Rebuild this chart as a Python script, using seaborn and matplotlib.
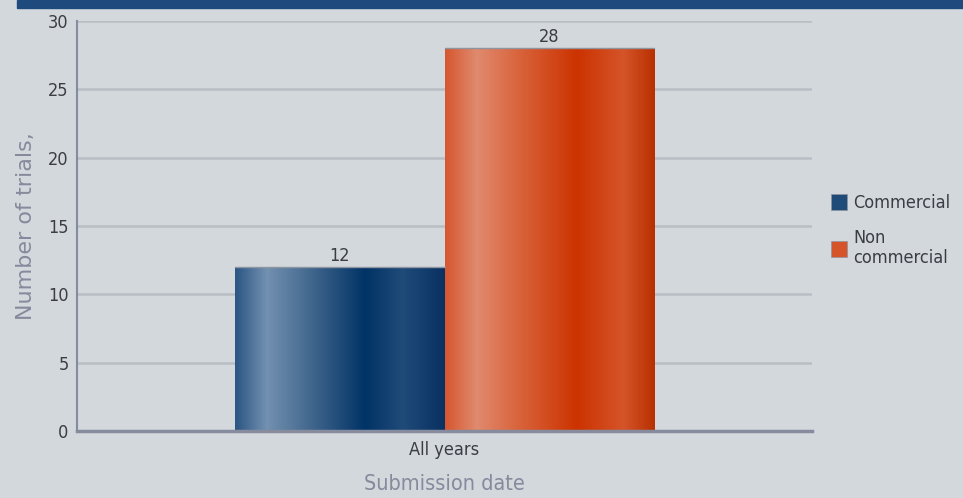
import numpy as np
import pandas as pd
import matplotlib
matplotlib.use("Agg")
import matplotlib.pyplot as plt
from matplotlib.colors import LinearSegmentedColormap
from matplotlib.patches import Rectangle, Patch
import seaborn as sb

# data
categories = ["All years"]
series = ["Commercial", "Non commercial"]
commercial = [12]
noncommercial = [28]
yticks = [0, 5, 10, 15, 20, 25, 30]

bg = "#d3d8dd"
axis_col = "#878b9e"
grid_col = "#b9bec4"
text_col = "#3a3d44"
label_col = "#858a9c"

df = pd.DataFrame({
    "date": categories * 2,
    "kind": [series[0]] * len(commercial) + [series[1]] * len(noncommercial),
    "trials": commercial + noncommercial,
})

blue_map = LinearSegmentedColormap.from_list("blue", [
    (0.0, "#2b5583"), (0.15, "#7391b1"), (0.35, "#44698f"),
    (0.62, "#013366"), (0.8, "#1f4b79"), (1.0, "#093162")])
orange_map = LinearSegmentedColormap.from_list("orange", [
    (0.0, "#d6572f"), (0.15, "#e08a6e"), (0.35, "#d9643c"),
    (0.63, "#cc3300"), (0.85, "#d5542a"), (1.0, "#b83100")])

sb.set_style("white")
plt.rcParams['font.family'] = ['DejaVu Sans']
plt.rcParams['font.stretch'] = 'condensed'

fig = plt.figure(figsize=(9.63, 4.98), dpi=100, facecolor=bg)
ax = fig.add_axes([77 / 963, 1 - 431 / 498, (812 - 77) / 963, (431 - 21) / 498])
ax.set_facecolor(bg)

sb.barplot(data=df, x="date", y="trials", hue="kind", hue_order=series,
           palette=["#1f4b79", "#d5542a"], width=0.57, ax=ax, legend=False,
           edgecolor="none", linewidth=0)

# gradient fill on top of each bar
grad = np.linspace(0, 1, 256).reshape(1, -1)
for bar, cmap in zip(ax.patches, [blue_map, orange_map]):
    x0, w, h = bar.get_x(), bar.get_width(), bar.get_height()
    ax.imshow(grad, cmap=cmap, aspect="auto", extent=(x0, x0 + w, 0, h),
              zorder=3, interpolation="bilinear")
    ax.plot([x0, x0 + w], [h, h], color="#8f959f", lw=1, zorder=4)
    ax.text(x0 + w / 2, h + 0.15, f"{h:g}", ha="center", va="bottom",
            fontsize=13, color=text_col, zorder=5)

ax.set_xlim(-0.5, 0.5)
ax.set_ylim(0, 30)
ax.set_yticks(yticks)
ax.yaxis.grid(True, color=grid_col, lw=1.8)
ax.set_axisbelow(True)
for s in ["top", "right"]:
    ax.spines[s].set_visible(False)
ax.spines["left"].set_color(axis_col)
ax.spines["left"].set_linewidth(1.5)
ax.spines["bottom"].set_color(axis_col)
ax.spines["bottom"].set_linewidth(2.5)
ax.spines["bottom"].set_zorder(6)
ax.tick_params(axis="both", length=0, labelsize=13, colors=text_col, pad=7)
ax.tick_params(axis="y", pad=6)
ax.set_ylabel("Number of trials,", fontsize=16, color=label_col,
              labelpad=9, fontstretch="normal")
ax.set_xlabel("Submission date", fontsize=15.5, color=label_col, labelpad=11)

# dark header band
fig.patches.append(Rectangle((17 / 963, 1 - 8 / 498), 1, 8 / 498,
                             transform=fig.transFigure, color="#1f4a7e", zorder=0))

handles = [Patch(facecolor="#1f4b79", edgecolor="#8f959f", lw=0.5),
           Patch(facecolor="#d5542a", edgecolor="#8f959f", lw=0.5)]
fig.legend(handles, ["Commercial", "Non\ncommercial"], loc="upper left",
           bbox_to_anchor=(831 / 963, 1 - 194 / 498), frameon=False,
           borderpad=0, borderaxespad=0, fontsize=13, labelcolor=text_col,
           handlelength=0.9, handleheight=1.0, handletextpad=0.35,
           labelspacing=0.9)

fig.savefig("out.png", dpi=100, facecolor=bg)
